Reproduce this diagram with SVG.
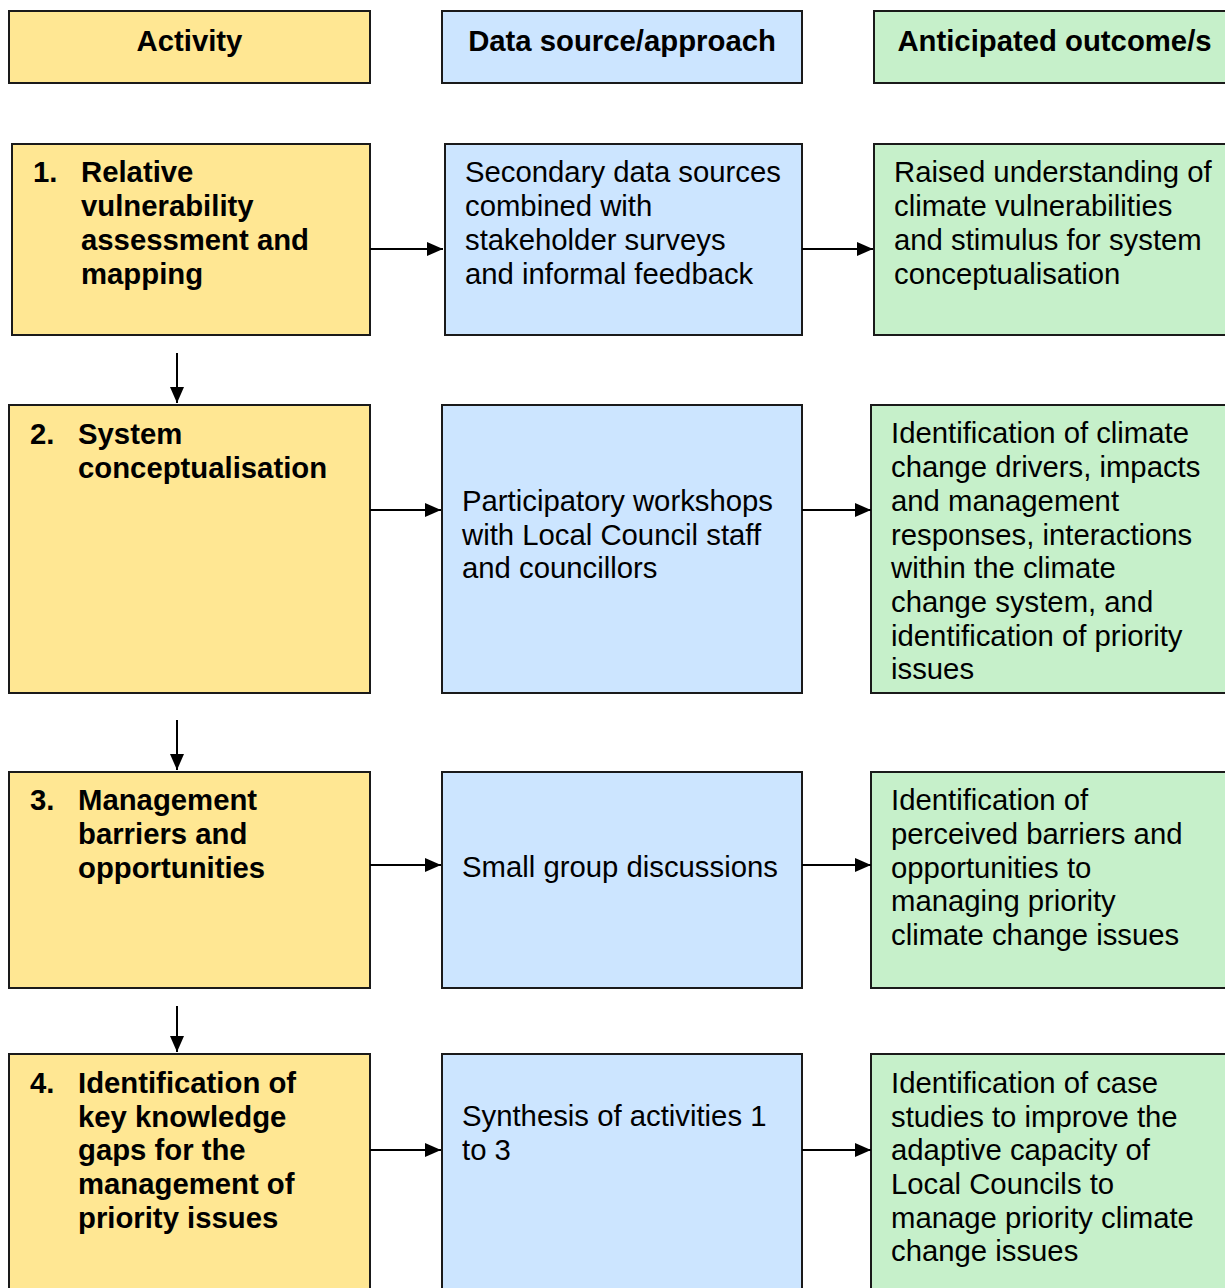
<svg xmlns="http://www.w3.org/2000/svg" width="1225" height="1288" viewBox="0 0 1225 1288">
  <style>
    .box { stroke: #1a1a1a; stroke-width: 2; }
    .act { fill: #FFE793; }
    .src { fill: #CCE5FF; }
    .out { fill: #C6F0CA; }
    text { font-family: "Liberation Sans", Arial, sans-serif; font-size: 29.3px; fill: #000; }
    .b { font-weight: bold; }
    .conn { stroke: #000; stroke-width: 2; fill: none; marker-end: url(#arrow); }
  </style>
  <defs>
    <marker id="arrow" viewBox="0 0 16 14" refX="16" refY="7" markerWidth="16" markerHeight="14" markerUnits="userSpaceOnUse" orient="auto">
      <path d="M0,0 L16,7 L0,14 Z" fill="#000"/>
    </marker>
  </defs>

  <!-- column headers -->
  <g id="hdr-activity">
    <rect class="box act" x="9" y="11" width="361" height="72"/>
    <text class="b" x="189.5" y="51" text-anchor="middle">Activity</text>
  </g>
  <g id="hdr-source">
    <rect class="box src" x="442" y="11" width="360" height="72"/>
    <text class="b" x="622" y="51" text-anchor="middle">Data source/approach</text>
  </g>
  <g id="hdr-outcome">
    <rect class="box out" x="874" y="11" width="361" height="72"/>
    <text class="b" x="1054.5" y="51" text-anchor="middle">Anticipated outcome/s</text>
  </g>

  <!-- row 1 -->
  <g id="act1">
    <rect class="box act" x="12" y="144" width="358" height="191"/>
    <text class="b" x="33" y="182">1.</text>
    <text class="b" x="81" y="182">Relative</text>
    <text class="b" x="81" y="216">vulnerability</text>
    <text class="b" x="81" y="250">assessment and</text>
    <text class="b" x="81" y="284">mapping</text>
  </g>
  <g id="src1">
    <rect class="box src" x="445" y="144" width="357" height="191"/>
    <text x="465" y="182">Secondary data sources</text>
    <text x="465" y="216">combined with</text>
    <text x="465" y="250">stakeholder surveys</text>
    <text x="465" y="284">and informal feedback</text>
  </g>
  <g id="out1">
    <rect class="box out" x="874" y="144" width="361" height="191"/>
    <text x="894" y="182">Raised understanding of</text>
    <text x="894" y="216">climate vulnerabilities</text>
    <text x="894" y="250">and stimulus for system</text>
    <text x="894" y="284">conceptualisation</text>
  </g>

  <!-- row 2 -->
  <g id="act2">
    <rect class="box act" x="9" y="405" width="361" height="288"/>
    <text class="b" x="30" y="444">2.</text>
    <text class="b" x="78" y="444">System</text>
    <text class="b" x="78" y="478">conceptualisation</text>
  </g>
  <g id="src2">
    <rect class="box src" x="442" y="405" width="360" height="288"/>
    <text x="462" y="511">Participatory workshops</text>
    <text x="462" y="545">with Local Council staff</text>
    <text x="462" y="578">and councillors</text>
  </g>
  <g id="out2">
    <rect class="box out" x="871" y="405" width="364" height="288"/>
    <text x="891" y="443">Identification of climate</text>
    <text x="891" y="477">change drivers, impacts</text>
    <text x="891" y="511">and management</text>
    <text x="891" y="545">responses, interactions</text>
    <text x="891" y="578">within the climate</text>
    <text x="891" y="612">change system, and</text>
    <text x="891" y="646">identification of priority</text>
    <text x="891" y="679">issues</text>
  </g>

  <!-- row 3 -->
  <g id="act3">
    <rect class="box act" x="9" y="772" width="361" height="216"/>
    <text class="b" x="30" y="810">3.</text>
    <text class="b" x="78" y="810">Management</text>
    <text class="b" x="78" y="844">barriers and</text>
    <text class="b" x="78" y="878">opportunities</text>
  </g>
  <g id="src3">
    <rect class="box src" x="442" y="772" width="360" height="216"/>
    <text x="462" y="877">Small group discussions</text>
  </g>
  <g id="out3">
    <rect class="box out" x="871" y="772" width="364" height="216"/>
    <text x="891" y="810">Identification of</text>
    <text x="891" y="844">perceived barriers and</text>
    <text x="891" y="878">opportunities to</text>
    <text x="891" y="911">managing priority</text>
    <text x="891" y="945">climate change issues</text>
  </g>

  <!-- row 4 -->
  <g id="act4">
    <rect class="box act" x="9" y="1054" width="361" height="250"/>
    <text class="b" x="30" y="1093">4.</text>
    <text class="b" x="78" y="1093">Identification of</text>
    <text class="b" x="78" y="1127">key knowledge</text>
    <text class="b" x="78" y="1160">gaps for the</text>
    <text class="b" x="78" y="1194">management of</text>
    <text class="b" x="78" y="1228">priority issues</text>
  </g>
  <g id="src4">
    <rect class="box src" x="442" y="1054" width="360" height="250"/>
    <text x="462" y="1126">Synthesis of activities 1</text>
    <text x="462" y="1160">to 3</text>
  </g>
  <g id="out4">
    <rect class="box out" x="871" y="1054" width="364" height="250"/>
    <text x="891" y="1093">Identification of case</text>
    <text x="891" y="1127">studies to improve the</text>
    <text x="891" y="1160">adaptive capacity of</text>
    <text x="891" y="1194">Local Councils to</text>
    <text x="891" y="1228">manage priority climate</text>
    <text x="891" y="1261">change issues</text>
  </g>

  <!-- connectors -->
  <g id="connectors">
    <line class="conn" x1="370" y1="249" x2="443" y2="249"/>
    <line class="conn" x1="802" y1="249" x2="873" y2="249"/>
    <line class="conn" x1="370" y1="510" x2="441" y2="510"/>
    <line class="conn" x1="802" y1="510" x2="871" y2="510"/>
    <line class="conn" x1="370" y1="865" x2="441" y2="865"/>
    <line class="conn" x1="802" y1="865" x2="871" y2="865"/>
    <line class="conn" x1="370" y1="1150" x2="441" y2="1150"/>
    <line class="conn" x1="802" y1="1150" x2="871" y2="1150"/>
    <line class="conn" x1="177" y1="353" x2="177" y2="403"/>
    <line class="conn" x1="177" y1="720" x2="177" y2="770"/>
    <line class="conn" x1="177" y1="1006" x2="177" y2="1052"/>
  </g>
</svg>
